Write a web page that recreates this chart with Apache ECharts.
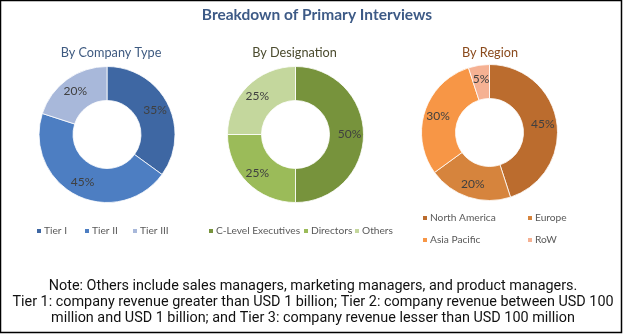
<!DOCTYPE html>
<html><head><meta charset="utf-8">
<script src="https://cdn.jsdelivr.net/npm/echarts@6/dist/echarts.min.js"></script>
<style>html,body{margin:0;padding:0;background:#fff}#c{width:623px;height:334px}</style>
</head><body><div id="c"></div>
<script>
var companyCats = ['Tier I', 'Tier II', 'Tier III'];
var companyVals = [35, 45, 20];
var desigCats = ['C-Level Executives', 'Directors', 'Others'];
var desigVals = [50, 25, 25];
var regionCats = ['North America', 'Europe', 'Asia Pacific', 'RoW'];
var regionVals = [45, 20, 30, 5];
var noteLines = [
  'Note: Others include sales managers, marketing managers, and product managers.',
  'Tier 1: company revenue greater than USD 1 billion; Tier 2: company revenue between USD 100',
  'million and USD 1 billion; and Tier 3: company revenue lesser than USD 100 million'
];

var companyColors = ['#3e67a3', '#4d7ec2', '#a8b8da'];
var desigColors = ['#77933c', '#9bbb59', '#c4d79d'];
var regionColors = ['#bb6c2e', '#d6843d', '#f79646', '#f5b193'];

var labelFont = 'Lato';
function mk(cats, vals, colors){
  return cats.map(function(n,i){return {name:n, value:vals[i], itemStyle:{color:colors[i]}};});
}
function pie(cx, cy, data){
  return {
    type:'pie', center:[cx, cy], radius:[34, 68], startAngle:90, clockwise:true,
    animation:false, silent:true,
    itemStyle:{borderColor:'#fff', borderWidth:0.8},
    label:{show:true, position:'inside', formatter:'{c}%', color:'#404040', fontFamily:labelFont, fontSize:12},
    labelLine:{show:false},
    data:data
  };
}
var legends = [];
function leg(name, x, y){
  legends.push({data:[name], left:x, top:y, icon:'rect', itemWidth:6, itemHeight:6, itemGap:0,
    selectedMode:false, padding:0,
    textStyle:{color:'#595959', fontFamily:labelFont, fontSize:10.2, padding:[0,0,0,-3]}});
}
leg(companyCats[0], 35, 226); leg(companyCats[1], 83, 226); leg(companyCats[2], 131, 226);
leg(desigCats[0], 207, 226); leg(desigCats[1], 302, 226); leg(desigCats[2], 353, 226);
leg(regionCats[0], 421, 213); leg(regionCats[1], 526, 213);
leg(regionCats[2], 421, 235); leg(regionCats[3], 526, 235);

var graphics = [
  {type:'rect', shape:{x:0.5, y:0.5, width:621, height:332}, style:{fill:null, stroke:'#000', lineWidth:1.5}, silent:true}
];
var noteY = [286, 302, 318];
noteLines.forEach(function(t, i){
  graphics.push({type:'text', x:313, y:noteY[i], style:{text:t, align:'center', verticalAlign:'middle', fill:'#111',
    font:'14.4px Roboto, sans-serif'}, silent:true});
});

var chart = echarts.init(document.getElementById('c'), null, {renderer:'canvas'});
chart.setOption({
  backgroundColor:'#fff',
  animation:false,
  title:[
    {text:'Breakdown of Primary Interviews', left:312, top:2, textAlign:'center', textStyle:{color:'#3d5a86', fontFamily:labelFont, fontWeight:'bold', fontSize:15.5}},
    {text:'By Company Type', left:106, top:41, textAlign:'center', textStyle:{color:'#3e5a80', fontFamily:labelFont, fontWeight:'normal', fontSize:12.7}},
    {text:'By Designation', left:289.5, top:41, textAlign:'center', textStyle:{color:'#4b4b2e', fontFamily:labelFont, fontWeight:'normal', fontSize:12.7}},
    {text:'By Region', left:485, top:41, textAlign:'center', textStyle:{color:'#8a4a1c', fontFamily:labelFont, fontWeight:'normal', fontSize:12.7}}
  ],
  legend:legends,
  series:[
    pie(107, 134.5, mk(companyCats, companyVals, companyColors)),
    pie(295.5, 134.5, mk(desigCats, desigVals, desigColors)),
    pie(489.5, 132.5, mk(regionCats, regionVals, regionColors))
  ],
  graphic:graphics
});
</script></body></html>
